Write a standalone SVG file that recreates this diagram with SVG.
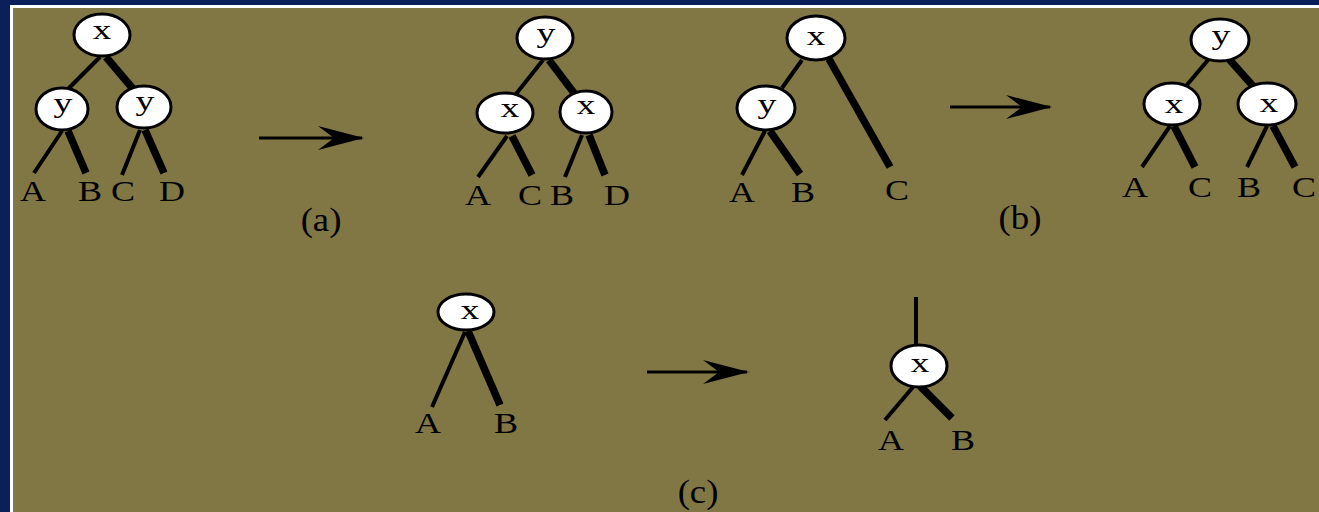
<svg xmlns="http://www.w3.org/2000/svg" width="1319" height="512" viewBox="0 0 1319 512">
  <style>
    .node { fill: #ffffff; stroke: #000000; stroke-width: 3; }
    .nlabel { font-family: "Liberation Serif", "Times New Roman", serif; font-size: 28px; fill: #000000; text-anchor: middle; }
    .leaf { font-family: "Liberation Serif", "Times New Roman", serif; font-size: 30px; fill: #000000; text-anchor: middle; }
    .cap { font-family: "Liberation Serif", "Times New Roman", serif; font-size: 34px; fill: #000000; text-anchor: middle; }
    .thin { stroke: #000000; stroke-width: 4; fill: none; }
    .thick { stroke: #000000; stroke-width: 7.5; fill: none; }
    .arrow { stroke: #000000; stroke-width: 3; fill: none; marker-end: url(#head); }
  </style>
  <defs>
    <marker id="head" viewBox="0 0 48 24" refX="46" refY="12" markerWidth="48" markerHeight="24" markerUnits="userSpaceOnUse" orient="auto">
      <path d="M48,12 L2,0 L18,12 L2,24 Z" fill="#000000"/>
    </marker>
  </defs>

  <!-- frame and panel -->
  <rect x="0" y="0" width="1319" height="512" fill="#0b1f5b"/>
  <rect x="10" y="5" width="1309" height="507" fill="#ffffff"/>
  <rect x="13" y="8" width="1306" height="504" fill="#817744"/>

  <!-- connectors -->
  <g id="connectors">
    <!-- (a) left tree -->
    <line class="thin" x1="100" y1="57" x2="68" y2="89"/>
    <line class="thick" x1="106" y1="57" x2="134" y2="90"/>
    <line class="thin" x1="62" y1="131" x2="34" y2="173"/>
    <line class="thick" x1="68" y1="131" x2="86" y2="173"/>
    <line class="thin" x1="140" y1="130" x2="122" y2="175"/>
    <line class="thick" x1="145" y1="130" x2="164" y2="173"/>
    <!-- (a) right tree -->
    <line class="thin" x1="543" y1="60" x2="516" y2="94"/>
    <line class="thick" x1="549" y1="60" x2="574" y2="93"/>
    <line class="thin" x1="507" y1="136" x2="478" y2="177"/>
    <line class="thick" x1="512" y1="136" x2="532" y2="175"/>
    <line class="thin" x1="582" y1="135" x2="565" y2="177"/>
    <line class="thick" x1="589" y1="135" x2="605" y2="175"/>
    <!-- (b) left tree -->
    <line class="thin" x1="802" y1="60" x2="782" y2="88"/>
    <line class="thick" x1="829" y1="59" x2="890" y2="167"/>
    <line class="thin" x1="765" y1="131" x2="742" y2="175"/>
    <line class="thick" x1="770" y1="131" x2="800" y2="174"/>
    <!-- (b) right tree -->
    <line class="thin" x1="1208" y1="60" x2="1186" y2="86"/>
    <line class="thick" x1="1228" y1="58" x2="1253" y2="86"/>
    <line class="thin" x1="1170" y1="126" x2="1142" y2="167"/>
    <line class="thick" x1="1174" y1="126" x2="1195" y2="167"/>
    <line class="thin" x1="1267" y1="126" x2="1247" y2="167"/>
    <line class="thick" x1="1273" y1="126" x2="1295" y2="167"/>
    <!-- (c) left -->
    <line class="thin" x1="465" y1="332" x2="432" y2="407"/>
    <line class="thick" x1="468" y1="331" x2="500" y2="405"/>
    <!-- (c) right -->
    <line class="thin" x1="916" y1="297" x2="916" y2="346"/>
    <line class="thin" x1="913" y1="387" x2="885" y2="420"/>
    <line class="thick" x1="920" y1="386" x2="952" y2="418"/>
    <!-- transformation arrows -->
    <line class="arrow" x1="259" y1="138" x2="362" y2="138"/>
    <line class="arrow" x1="950" y1="107" x2="1050" y2="107"/>
    <line class="arrow" x1="647" y1="372" x2="747" y2="372"/>
  </g>

  <!-- (a) left tree -->
  <g id="a1-x"><ellipse class="node" cx="102" cy="35" rx="28" ry="21"/><text class="nlabel" transform="translate(102,39) scale(1.35,1)">x</text></g>
  <g id="a1-y1"><ellipse class="node" cx="62" cy="109" rx="26" ry="21"/><text class="nlabel" transform="translate(63,112) scale(1.35,1)">y</text></g>
  <g id="a1-y2"><ellipse class="node" cx="144" cy="107" rx="27" ry="21"/><text class="nlabel" transform="translate(145,110) scale(1.35,1)">y</text></g>
  <g id="a1-leaves">
    <text class="leaf" transform="translate(33,201) scale(1.2,1)">A</text>
    <text class="leaf" transform="translate(90,201) scale(1.2,1)">B</text>
    <text class="leaf" transform="translate(123,201) scale(1.2,1)">C</text>
    <text class="leaf" transform="translate(172,201) scale(1.2,1)">D</text>
  </g>

  <!-- (a) right tree -->
  <g id="a2-y"><ellipse class="node" cx="545" cy="38" rx="28" ry="21"/><text class="nlabel" transform="translate(546,42) scale(1.35,1)">y</text></g>
  <g id="a2-x1"><ellipse class="node" cx="505" cy="113" rx="28" ry="20"/><text class="nlabel" transform="translate(510,117) scale(1.35,1)">x</text></g>
  <g id="a2-x2"><ellipse class="node" cx="586" cy="112" rx="26" ry="21"/><text class="nlabel" transform="translate(586,114) scale(1.35,1)">x</text></g>
  <g id="a2-leaves">
    <text class="leaf" transform="translate(478,205) scale(1.2,1)">A</text>
    <text class="leaf" transform="translate(530,205) scale(1.2,1)">C</text>
    <text class="leaf" transform="translate(562,205) scale(1.2,1)">B</text>
    <text class="leaf" transform="translate(617,205) scale(1.2,1)">D</text>
  </g>
  <text class="cap" transform="translate(321,231) scale(1.08,1)">(a)</text>

  <!-- (b) left tree -->
  <g id="b1-x"><ellipse class="node" cx="816" cy="38" rx="29" ry="22"/><text class="nlabel" transform="translate(816,45) scale(1.35,1)">x</text></g>
  <g id="b1-y"><ellipse class="node" cx="766" cy="108" rx="29" ry="22"/><text class="nlabel" transform="translate(767,113) scale(1.35,1)">y</text></g>
  <g id="b1-leaves">
    <text class="leaf" transform="translate(742,202) scale(1.2,1)">A</text>
    <text class="leaf" transform="translate(803,202) scale(1.2,1)">B</text>
    <text class="leaf" transform="translate(897,200) scale(1.2,1)">C</text>
  </g>

  <!-- (b) right tree -->
  <g id="b2-y"><ellipse class="node" cx="1220" cy="40" rx="29" ry="21"/><text class="nlabel" transform="translate(1221,44) scale(1.35,1)">y</text></g>
  <g id="b2-x1"><ellipse class="node" cx="1172" cy="104" rx="28" ry="21"/><text class="nlabel" transform="translate(1174,113) scale(1.35,1)">x</text></g>
  <g id="b2-x2"><ellipse class="node" cx="1267" cy="104" rx="29" ry="21"/><text class="nlabel" transform="translate(1269,112) scale(1.35,1)">x</text></g>
  <g id="b2-leaves">
    <text class="leaf" transform="translate(1135,197) scale(1.2,1)">A</text>
    <text class="leaf" transform="translate(1200,197) scale(1.2,1)">C</text>
    <text class="leaf" transform="translate(1249,197) scale(1.2,1)">B</text>
    <text class="leaf" transform="translate(1304,197) scale(1.2,1)">C</text>
  </g>
  <text class="cap" transform="translate(1020,229) scale(1.08,1)">(b)</text>

  <!-- (c) left -->
  <g id="c1-x"><ellipse class="node" cx="466" cy="312" rx="28" ry="18"/><text class="nlabel" transform="translate(470,319) scale(1.35,1)">x</text></g>
  <g id="c1-leaves">
    <text class="leaf" transform="translate(428,433) scale(1.2,1)">A</text>
    <text class="leaf" transform="translate(506,433) scale(1.2,1)">B</text>
  </g>

  <!-- (c) right -->
  <g id="c2-x"><ellipse class="node" cx="919" cy="366" rx="28" ry="21"/><text class="nlabel" transform="translate(920,372) scale(1.35,1)">x</text></g>
  <g id="c2-leaves">
    <text class="leaf" transform="translate(891,450) scale(1.2,1)">A</text>
    <text class="leaf" transform="translate(963,450) scale(1.2,1)">B</text>
  </g>
  <text class="cap" transform="translate(698,503) scale(1.08,1)">(c)</text>
</svg>
